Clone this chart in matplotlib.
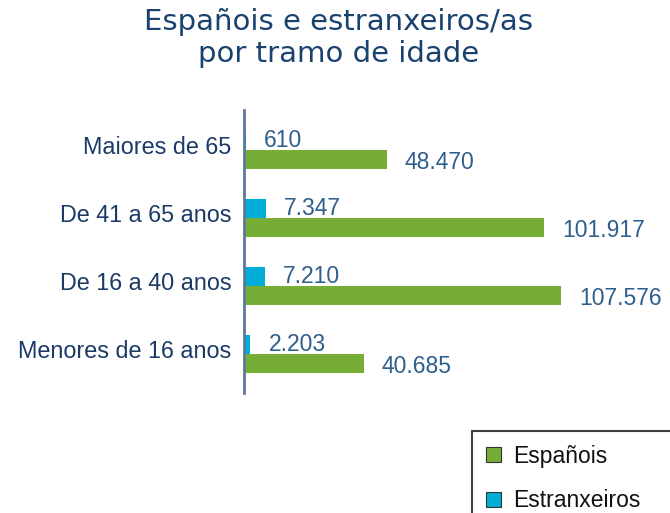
import matplotlib
matplotlib.use("Agg")
import matplotlib.pyplot as plt
from matplotlib.patches import Patch

categories = ["Maiores de 65", "De 41 a 65 anos", "De 16 a 40 anos", "Menores de 16 anos"]
espanois = [48470, 101917, 107576, 40685]
estranxeiros = [610, 7347, 7210, 2203]
espanois_labels = ["48.470", "101.917", "107.576", "40.685"]
estranxeiros_labels = ["610", "7.347", "7.210", "2.203"]
title = "Españois e estranxeiros/as\npor tramo de idade"

W, H = 670, 513
fig = plt.figure(figsize=(W / 100, H / 100), dpi=100)
ax = fig.add_axes([244 / W, 1 - 393 / H, (W - 244) / W, 283 / H])

GREEN = "#76ae35"
BLUE = "#00acd8"
LBL = "#2e5e8c"
CAT = "#1b3a66"
FONT = "Liberation Sans"

bh = 0.28
pos = list(range(len(categories)))
ax.barh([p - bh / 2 for p in pos], estranxeiros, height=bh, color=BLUE, label="Estranxeiros")
ax.barh([p + bh / 2 for p in pos], espanois, height=bh, color=GREEN, label="Españois")

for p, v, t in zip(pos, estranxeiros, estranxeiros_labels):
    ax.annotate(t, (v, p - bh / 2), xytext=(13, 0), textcoords="offset points",
                va="center", ha="left", color=LBL, fontsize=16.5, family=FONT)
for p, v, t in zip(pos, espanois, espanois_labels):
    ax.annotate(t, (v, p + bh / 2), xytext=(13, -2), textcoords="offset points",
                va="center", ha="left", color=LBL, fontsize=16.5, family=FONT)

ax.set_xlim(0, 144500)
ax.set_ylim(3 + 0.574, -0.588)
ax.set_xticks([])
ax.set_yticks([p - 0.07 for p in pos])
ax.set_yticklabels(categories, fontsize=16.8, color=CAT, family=FONT)
ax.tick_params(axis="y", length=0, pad=9)
for s in ["top", "right", "bottom"]:
    ax.spines[s].set_visible(False)
ax.spines["left"].set_color("#5b7a99")
ax.spines["left"].set_linewidth(2)
ax.patch.set_alpha(0)

fig.text(0.505, 1 - 38 / H, title, ha="center", va="center", color="#1a4270",
         fontsize=21, family="DejaVu Sans", linespacing=1.15)

handles = [Patch(facecolor=GREEN, edgecolor="#333333", linewidth=0.8),
           Patch(facecolor=BLUE, edgecolor="#333333", linewidth=0.8)]
leg = fig.legend(handles, ["Españois", "Estranxeiros"], loc="upper left",
                 bbox_to_anchor=(472 / W, 1 - 436 / H, 0.4, 0.01), mode="expand",
                 fancybox=False, edgecolor="#404040", framealpha=1,
                 prop={"family": FONT, "size": 16.5}, handlelength=0.65, handleheight=0.65,
                 handletextpad=0.55, labelspacing=0.95, borderpad=0.6, borderaxespad=0)
leg.get_frame().set_linewidth(1.5)
for t in leg.get_texts():
    t.set_color("#111111")

fig.savefig("out.png", dpi=100)
